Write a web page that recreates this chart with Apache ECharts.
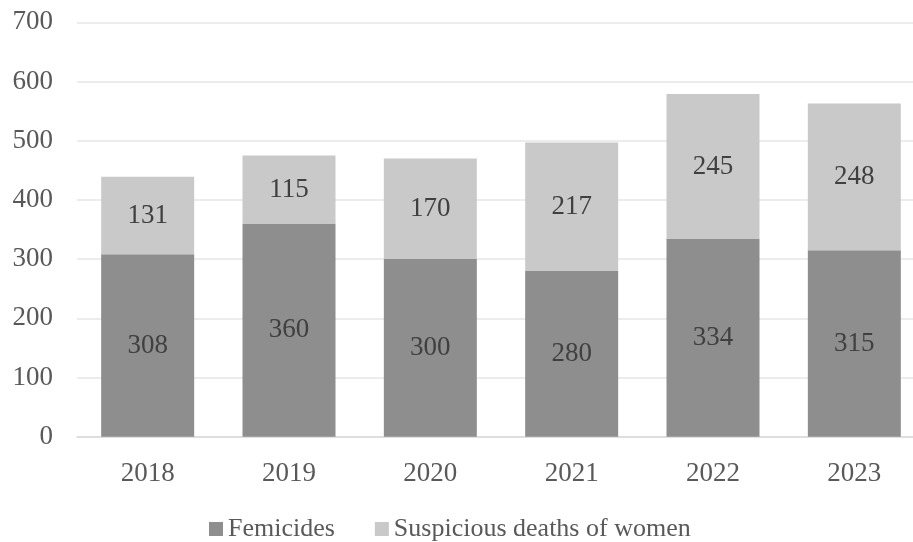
<!DOCTYPE html>
<html><head><meta charset="utf-8">
<script src="https://cdn.jsdelivr.net/npm/echarts@6/dist/echarts.min.js"></script>
<style>html,body{margin:0;padding:0;background:#fff}#c{width:913px;height:542px}</style>
</head><body><div id="c"></div>
<script>
const categories = ['2018','2019','2020','2021','2022','2023'];
const femicides = [308, 360, 300, 280, 334, 315];
const suspicious = [131, 115, 170, 217, 245, 248];
const yTicks = [0, 100, 200, 300, 400, 500, 600, 700];
const seriesNames = ['Femicides', 'Suspicious deaths of women'];

const FONT = '"Liberation Serif", "DejaVu Serif", serif';
const chart = echarts.init(document.getElementById('c'));
chart.setOption({
  animation: false,
  backgroundColor: '#fff',
  textStyle: { fontFamily: FONT },
  grid: { left: 77, right: -12, top: 22.3, bottom: 105.3, containLabel: false, outerBoundsMode: 'none' },
  legend: {
    bottom: 0, left: 209, padding: 0,
    itemWidth: 14, itemHeight: 14, itemGap: 40,
    icon: 'rect',
    textStyle: { fontFamily: FONT, fontSize: 26, color: '#595959', padding: [0,0,0,0] },
    data: seriesNames
  },
  xAxis: {
    type: 'category', data: categories,
    axisTick: { show: false },
    axisLine: { lineStyle: { color: '#d9d9d9', width: 1.5 } },
    axisLabel: { fontFamily: FONT, fontSize: 27, color: '#595959', margin: 24 }
  },
  yAxis: {
    type: 'value', min: yTicks[0], max: yTicks[yTicks.length-1], interval: 100,
    axisLine: { show: false }, axisTick: { show: false },
    splitLine: { lineStyle: { color: '#e6e6e6', width: 1.5 } },
    axisLabel: { fontFamily: FONT, fontSize: 27, color: '#595959', margin: 24 }
  },
  series: [
    { name: seriesNames[0], type: 'bar', stack: 't', data: femicides, barWidth: 93,
      itemStyle: { color: '#8e8e8e' },
      label: { show: true, position: 'inside', fontFamily: FONT, fontSize: 27, color: '#404040' } },
    { name: seriesNames[1], type: 'bar', stack: 't', data: suspicious, barWidth: 93,
      itemStyle: { color: '#c9c9c9' },
      label: { show: true, position: 'inside', fontFamily: FONT, fontSize: 27, color: '#404040' } }
  ]
});
</script></body></html>
